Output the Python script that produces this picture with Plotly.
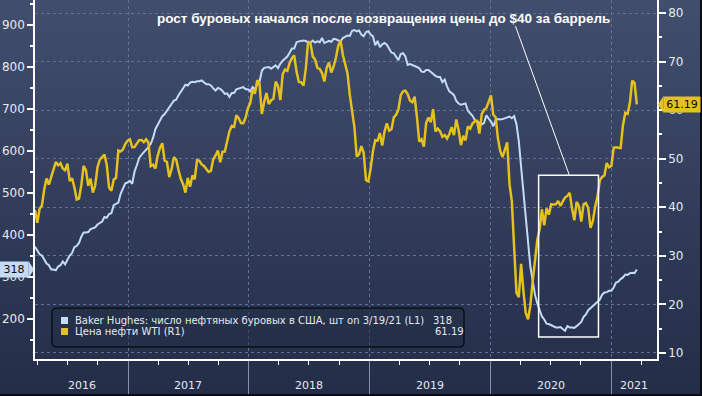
import base64
import pandas as pd
import plotly.graph_objects as go

# ---------------- data (weekly, Fridays) ----------------
start_date = "2016-03-25"

rigs_2016 = [372, 362, 354, 351, 343, 332, 328, 318, 318, 316, 325, 328, 337, 330,
             341, 351, 357, 371, 374, 381, 396, 406, 406, 407, 414, 416, 418, 425,
             428, 432, 443, 441, 450, 452, 471, 474, 477, 498, 510, 523, 525]
rigs_2017 = [529, 522, 551, 566, 583, 591, 597, 602, 609, 617, 631, 652, 662,
             672, 683, 688, 697, 703, 712, 720, 722, 733, 741, 747, 758, 756,
             763, 765, 764, 766, 766, 768, 763, 759, 759, 756, 749, 744, 750,
             748, 743, 736, 737, 729, 738, 738, 747, 749, 751, 752, 747, 747]
rigs_2018 = [742, 752, 747, 759, 765, 791, 798, 799, 800, 796, 800, 804, 797,
             808, 815, 820, 825, 834, 844, 844, 859, 861, 862, 863, 862, 858,
             858, 863, 858, 861, 859, 869, 857, 860, 862, 860, 867, 866, 863,
             861, 869, 873, 875, 874, 886, 888, 885, 887, 877, 873, 883, 885]
rigs_2019 = [877, 873, 852, 862, 847, 854, 857, 853, 843, 834, 833, 824, 816,
             831, 833, 825, 805, 807, 805, 802, 800, 797, 789, 788, 793, 793,
             788, 784, 779, 776, 776, 764, 770, 754, 742, 738, 733, 719, 713,
             710, 712, 713, 696, 691, 684, 674, 671, 668, 663, 667, 685, 677]
rigs_2020 = [670, 659, 673, 676, 675, 676, 678, 679, 682, 678, 683, 664, 624,
             562, 504, 438, 378, 325, 292, 258, 237, 222, 206, 199, 189, 188,
             185, 181, 180, 180, 181, 176, 172, 183, 180, 180, 179, 183, 189,
             193, 205, 211, 221, 226, 231, 236, 241, 246, 258, 263, 264, 267]
rigs_2021 = [267, 275, 287, 289, 295, 299, 306, 305, 309, 310, 309, 318]

wti_2016 = [39.46, 36.79, 39.72, 40.36, 43.73, 45.92, 44.66, 46.21, 47.75, 49.33,
            48.62, 49.07, 47.98, 47.64, 48.99, 45.41, 45.95, 44.19, 41.60, 41.80,
            44.49, 48.52, 47.64, 44.44, 45.88, 43.03, 44.48, 48.24, 49.81, 50.35,
            50.85, 48.70, 44.07, 43.41, 45.69, 46.06, 51.68, 51.50, 51.90, 53.02, 53.72]
wti_2017 = [53.99, 52.37, 52.42, 53.17, 53.83, 53.86, 53.40, 53.99, 53.33, 48.49,
            48.78, 47.97, 50.60, 52.24, 53.18, 49.62, 49.33, 46.22, 47.84, 50.33,
            49.80, 47.66, 45.83, 44.74, 43.01, 46.04, 44.23, 46.54, 45.77, 49.71,
            49.58, 48.82, 48.51, 47.87, 47.29, 47.48, 49.89, 50.66, 51.67, 49.29,
            51.45, 51.47, 53.90, 55.64, 56.74, 56.55, 58.95, 58.36, 57.36, 57.30,
            58.47, 60.42]
wti_2018 = [61.44, 64.30, 63.37, 66.14, 65.45, 59.20, 61.68, 63.55, 61.25, 62.04,
            62.34, 65.88, 64.94, 62.06, 67.39, 68.38, 68.10, 69.72, 70.70, 71.28,
            67.88, 65.81, 65.74, 65.06, 68.58, 74.15, 73.80, 71.01, 70.46, 68.69,
            68.49, 67.63, 65.91, 68.72, 69.80, 67.75, 68.99, 70.78, 73.25, 74.34,
            71.34, 69.12, 67.59, 63.14, 60.19, 56.46, 50.42, 50.93, 52.61, 51.20,
            45.59, 45.33]
wti_2019 = [47.96, 51.59, 53.80, 53.69, 55.26, 52.72, 55.59, 57.26, 55.80, 56.07,
            58.52, 59.04, 60.14, 63.08, 63.89, 64.00, 63.30, 61.94, 61.66, 62.76,
            58.63, 53.50, 53.99, 52.51, 57.43, 58.47, 57.51, 60.21, 55.63, 56.20,
            55.66, 54.50, 54.87, 54.17, 55.10, 56.52, 54.85, 58.09, 55.91, 52.81,
            54.70, 53.78, 56.66, 56.20, 57.24, 57.72, 57.77, 55.17, 59.20, 60.07,
            60.44, 61.72]
wti_2020 = [63.05, 59.04, 58.54, 54.19, 51.56, 50.32, 52.05, 53.38, 44.76, 41.28,
            31.73, 22.43, 21.51, 28.34, 22.76, 18.27, 16.94, 19.78, 24.74, 29.43,
            33.25, 35.49, 39.55, 36.26, 39.75, 38.49, 40.65, 40.55, 40.59, 41.29,
            40.27, 41.22, 42.01, 42.34, 42.97, 39.77, 37.33, 41.11, 40.25, 37.05,
            40.60, 40.88, 39.85, 35.79, 37.14, 40.13, 42.15, 45.53, 46.26, 46.57,
            49.10, 48.23]
wti_2021 = [48.52, 52.24, 52.36, 52.27, 52.20, 56.85, 59.47, 59.24, 61.50, 66.09,
            65.61, 61.19]

year_labels = ["2016", "2017", "2018", "2019", "2020", "2021"]
year_label_pos = ["2016-08-13", "2017-07-02", "2018-07-02", "2019-07-02",
                  "2020-07-01", "2021-03-11"]
year_starts = ["2017-01-01", "2018-01-01", "2019-01-01", "2020-01-01", "2021-01-01"]

rig_name = "Baker Hughes: число нефтяных буровых в США, шт on 3/19/21 (L1)"
wti_name = "Цена нефти WTI (R1)"
note_text = "рост буровых начался после возвращения цены до $40 за баррель"

rigs = rigs_2016 + rigs_2017 + rigs_2018 + rigs_2019 + rigs_2020 + rigs_2021
wti = wti_2016 + wti_2017 + wti_2018 + wti_2019 + wti_2020 + wti_2021
dates = pd.date_range(start_date, periods=len(rigs), freq="W-FRI")
assert len(rigs) == len(wti)

# ---------------- geometry ----------------
W, H = 702, 396
ML, MR, MT, MB = 35, 45, 0, 37
PW, PH = W - ML - MR, H - MT - MB


def px(x):
    return (x - ML) / PW


def py(y):
    return (H - MB - y) / PH


BLUE = "#c3dbf7"
YEL = "#e4c11c"
TXT = "#e6e9ef"
GRID = "#62719a"

fig = go.Figure()
fig.add_trace(go.Scatter(x=dates, y=rigs, mode="lines", name=rig_name,
                         line=dict(color=BLUE, width=2), yaxis="y", showlegend=False))
fig.add_trace(go.Scatter(x=dates, y=wti, mode="lines", name=wti_name,
                         line=dict(color=YEL, width=2.5), yaxis="y2", showlegend=False))

# background gradient
svg = ('<svg xmlns="http://www.w3.org/2000/svg" width="702" height="396">'
       '<defs><linearGradient id="g" x1="0" y1="0" x2="0" y2="1">'
       '<stop offset="0" stop-color="#414e6e"/><stop offset="1" stop-color="#232d48"/>'
       '</linearGradient></defs><rect width="702" height="396" fill="url(#g)"/></svg>')
src = "data:image/svg+xml;base64," + base64.b64encode(svg.encode()).decode()

shapes = []
annotations = []

# year labels
for lab, pos in zip(year_labels, year_label_pos):
    annotations.append(dict(x=pos, xref="x", y=0, yref="paper", yshift=-26,
                            text=lab, showarrow=False, yanchor="middle", xanchor="center",
                            font=dict(family="DejaVu Sans", size=11, color=TXT)))

# headline annotation
annotations.append(dict(x=px(384), y=py(18), xref="paper", yref="paper",
                        text="<b>" + note_text + "</b>", showarrow=False,
                        xanchor="center", yanchor="middle",
                        font=dict(family="Liberation Sans", size=13.5, color="white")))
# pointer line and rectangle (data coordinates)
shapes.append(dict(type="line", xref="x", yref="y2", x0="2020-03-17", y0=77.3,
                   x1="2020-08-27", y1=46.6, line=dict(color="white", width=1)))
shapes.append(dict(type="rect", xref="x", yref="y2", x0="2020-05-26", y0=13.3,
                   x1="2020-11-23", y1=46.6, line=dict(color="white", width=1.5)))

# legend box
lx0, ly0, lx1, ly1, r = px(52), py(308), px(464), py(347), 5
rx, ry = r / PW, r / PH
path = (f"M{lx0+rx},{ly0} L{lx1-rx},{ly0} Q{lx1},{ly0} {lx1},{ly0-ry} "
        f"L{lx1},{ly1+ry} Q{lx1},{ly1} {lx1-rx},{ly1} L{lx0+rx},{ly1} "
        f"Q{lx0},{ly1} {lx0},{ly1+ry} L{lx0},{ly0-ry} Q{lx0},{ly0} {lx0+rx},{ly0} Z")
shapes.append(dict(type="path", xref="paper", yref="paper", path=path,
                   line=dict(color="#0b0f18", width=1.5), fillcolor="rgba(35,45,70,0.55)"))
for (yc, col, name, val, vx) in [(320.5, BLUE, rig_name, f"{rigs[-1]}", 431),
                                 (331.5, YEL, wti_name, f"{wti[-1]:.2f}", 433)]:
    shapes.append(dict(type="rect", xref="paper", yref="paper",
                       x0=px(61), x1=px(68), y0=py(yc - 3.5), y1=py(yc + 3.5),
                       fillcolor=col, line=dict(width=0)))
    annotations.append(dict(x=px(73), y=py(yc), xref="paper", yref="paper", text=name,
                            showarrow=False, xanchor="left", yanchor="middle",
                            font=dict(family="DejaVu Sans", size=10, color=TXT)))
    annotations.append(dict(x=px(vx), y=py(yc), xref="paper", yref="paper", text=val,
                            showarrow=False, xanchor="left", yanchor="middle",
                            font=dict(family="DejaVu Sans", size=10, color=TXT)))

# last value callouts
annotations.append(dict(x=0, xref="paper", y=rigs[-1], yref="y", text=str(rigs[-1]),
                        showarrow=False, xanchor="right", yanchor="middle", xshift=-6,
                        bgcolor=BLUE, borderpad=1, width=26,
                        font=dict(family="DejaVu Sans", size=11, color="#0a0a0a")))
annotations.append(dict(x=1, xref="paper", y=wti[-1], yref="y2", text=f"{wti[-1]:.2f}",
                        showarrow=False, xanchor="left", yanchor="middle", xshift=6,
                        bgcolor=YEL, borderpad=1, width=34,
                        font=dict(family="DejaVu Sans", size=11, color="#0a0a0a")))
# callout arrow tips
shapes.append(dict(type="path", xref="paper", yref="paper",
                   path=f"M{px(28.5)},{py(261)} L{px(34)},{py(269.5)} L{px(28.5)},{py(278)} Z",
                   fillcolor=BLUE, line=dict(width=0)))
shapes.append(dict(type="path", xref="paper", yref="paper",
                   path=f"M{px(663.5)},{py(96)} L{px(658)},{py(104.5)} L{px(663.5)},{py(113)} Z",
                   fillcolor=YEL, line=dict(width=0)))

# frame edges (right/bottom dark border)
shapes.append(dict(type="line", xref="paper", yref="paper", x0=px(W - 1), x1=px(W - 1),
                   y0=py(0), y1=py(H), line=dict(color="#0a0d14", width=2)))
shapes.append(dict(type="line", xref="paper", yref="paper", x0=px(0), x1=px(W),
                   y0=py(H - 1), y1=py(H - 1), line=dict(color="#0a0d14", width=2)))

fig.update_layout(
    width=W, height=H, autosize=False,
    margin=dict(l=ML, r=MR, t=MT, b=MB, pad=0),
    paper_bgcolor="#2c3652", plot_bgcolor="rgba(0,0,0,0)",
    font=dict(family="DejaVu Sans", color=TXT),
    showlegend=False,
    images=[dict(source=src, xref="paper", yref="paper", x=-ML / PW, y=1 + MT / PH,
                 sizex=W / PW, sizey=H / PH, xanchor="left", yanchor="top",
                 sizing="stretch", layer="below")],
    xaxis=dict(type="date", range=["2016-03-25", "2021-05-19"],
               tickmode="array", tickvals=year_starts, showticklabels=False,
               ticks="outside", ticklen=37, tickcolor="#8790a6", tickwidth=1,
               showgrid=True, gridcolor=GRID, griddash="dot", gridwidth=1,
               showline=True, linecolor="white", linewidth=1.5, zeroline=False,
               minor=dict(dtick="M3", tick0="2016-01-01", ticks="outside", ticklen=4,
                          tickcolor="white", tickwidth=1, showgrid=False)),
    yaxis=dict(range=[104.8, 959.5], tickmode="array",
               tickvals=[200, 300, 400, 500, 600, 700, 800, 900],
               ticks="outside", ticklen=6, tickwidth=2, tickcolor="white",
               tickfont=dict(family="DejaVu Sans", size=12, color=TXT),
               showgrid=False, zeroline=False, showline=True, linecolor="white",
               linewidth=1.5,
               minor=dict(tickvals=[150, 250, 350, 450, 550, 650, 750, 850, 950],
                          ticks="outside", ticklen=3, tickcolor="white", showgrid=False)),
    yaxis2=dict(range=[8.76, 82.68], overlaying="y", side="right", tickmode="array",
                tickvals=[10, 20, 30, 40, 50, 60, 70, 80],
                ticks="outside", ticklen=7, tickwidth=2, tickcolor="white",
                tickfont=dict(family="DejaVu Sans", size=12, color=TXT),
                showgrid=True, gridcolor=GRID, griddash="dot", gridwidth=1,
                zeroline=False, showline=True, linecolor="white", linewidth=1.5,
                minor=dict(tickvals=[15, 25, 35, 45, 55, 65, 75],
                           ticks="outside", ticklen=3, tickcolor="white", showgrid=False)),
    shapes=shapes, annotations=annotations,
)

fig.write_html("out.html", config={"displayModeBar": False},
               post_script="document.body.style.margin='0';document.body.style.overflow='hidden';")
